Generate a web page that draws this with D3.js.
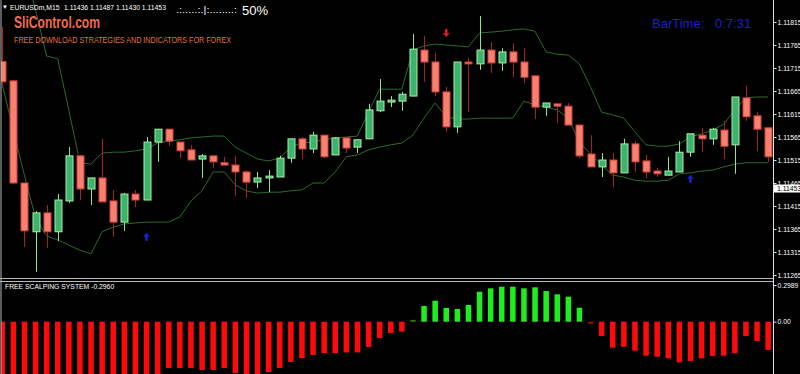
<!DOCTYPE html>
<html lang="en">
<head>
<meta charset="utf-8">
<title>EURUSDm,M15</title>
<script src="https://d3js.org/d3.v7.min.js"></script>
<style>
  body { margin: 0; background: #000; }
  svg { display: block; }
  text { font-family: "Liberation Sans", Arial, sans-serif; }
</style>
</head>
<body>
<svg id="chart" width="800" height="374"></svg>
<script>

// candles, oldest -> newest (M15)
var opens = [1.11729,1.11687,1.11465,1.11359,1.11400,1.11359,1.11426,1.11524,1.11452,1.11476,
  1.11426,1.11380,1.11441,1.11428,1.11554,1.11582,1.11554,1.11537,1.11517,1.11524,
  1.11509,1.11504,1.11489,1.11467,1.11476,1.11478,1.11519,1.11561,1.11539,1.11569,
  1.11526,1.11563,1.11543,1.11561,1.11622,1.11641,1.11643,1.11654,1.11754,1.11728,
  1.11663,1.11587,1.11728,1.11724,1.11754,1.11726,1.11750,1.11728,1.11698,1.11630,
  1.11637,1.11632,1.11591,1.11528,1.11500,1.11515,1.11487,1.11550,1.11513,1.11491,
  1.11482,1.11489,1.11532,1.11569,1.11561,1.11580,1.11548,1.11650,1.11611,1.11585];
var highs = [1.11804,1.11689,1.11465,1.11404,1.11417,1.11441,1.11543,1.11526,1.11476,1.11561,
  1.11450,1.11443,1.11450,1.11565,1.11582,1.11582,1.11554,1.11548,1.11528,1.11524,
  1.11522,1.11524,1.11493,1.11489,1.11493,1.11524,1.11561,1.11565,1.11576,1.11569,
  1.11565,1.11563,1.11559,1.11637,1.11691,1.11654,1.11663,1.11789,1.11785,1.11748,
  1.11674,1.11728,1.11737,1.11828,1.11771,1.11758,1.11769,1.11758,1.11698,1.11639,
  1.11637,1.11639,1.11591,1.11569,1.11530,1.11530,1.11561,1.11556,1.11526,1.11498,
  1.11522,1.11556,1.11572,1.11585,1.11585,1.11600,1.11652,1.11676,1.11619,1.11585];
var lows = [1.11672,1.11463,1.11326,1.11272,1.11324,1.11339,1.11422,1.11428,1.11417,1.11424,
  1.11348,1.11361,1.11413,1.11428,1.11511,1.11545,1.11519,1.11515,1.11476,1.11498,
  1.11504,1.11437,1.11432,1.11454,1.11445,1.11478,1.11509,1.11517,1.11530,1.11519,
  1.11526,1.11530,1.11530,1.11561,1.11619,1.11630,1.11622,1.11654,1.11685,1.11654,
  1.11576,1.11574,1.11619,1.11711,1.11704,1.11709,1.11695,1.11682,1.11604,1.11611,
  1.11595,1.11591,1.11519,1.11500,1.11478,1.11456,1.11487,1.11489,1.11476,1.11478,
  1.11482,1.11489,1.11522,1.11532,1.11548,1.11517,1.11485,1.11600,1.11535,1.11511];
var closes = [1.11685,1.11465,1.11361,1.11400,1.11359,1.11428,1.11524,1.11452,1.11476,1.11424,
  1.11380,1.11441,1.11428,1.11554,1.11582,1.11556,1.11535,1.11515,1.11524,1.11511,
  1.11504,1.11489,1.11467,1.11476,1.11480,1.11519,1.11561,1.11539,1.11569,1.11522,
  1.11563,1.11541,1.11559,1.11624,1.11643,1.11645,1.11658,1.11756,1.11728,1.11663,
  1.11587,1.11728,1.11724,1.11754,1.11726,1.11750,1.11728,1.11695,1.11630,1.11639,
  1.11632,1.11591,1.11524,1.11500,1.11515,1.11487,1.11550,1.11511,1.11489,1.11485,
  1.11491,1.11532,1.11572,1.11561,1.11582,1.11545,1.11652,1.11609,1.11582,1.11522];

// channel lines
var upperBand = [1.12080,1.12015,1.11939,1.11841,1.11741,1.11735,1.11624,1.11509,1.11506,1.11530,
  1.11532,1.11532,1.11535,1.11539,1.11552,1.11556,1.11559,1.11563,1.11565,1.11567,
  1.11567,1.11543,1.11530,1.11517,1.11513,1.11519,1.11543,1.11552,1.11554,1.11559,
  1.11563,1.11565,1.11567,1.11619,1.11669,1.11669,1.11669,1.11754,1.11763,1.11767,
  1.11765,1.11763,1.11761,1.11791,1.11793,1.11795,1.11798,1.11800,1.11795,1.11750,
  1.11745,1.11743,1.11724,1.11674,1.11619,1.11613,1.11606,1.11576,1.11548,1.11545,
  1.11545,1.11550,1.11565,1.11572,1.11580,1.11593,1.11624,1.11650,1.11652,1.11652];
var lowerBand = [1.11680,1.11580,1.11482,1.11389,1.11350,1.11341,1.11330,1.11319,1.11311,1.11359,
  1.11369,1.11376,1.11378,1.11380,1.11380,1.11380,1.11391,1.11426,1.11448,1.11489,
  1.11489,1.11461,1.11448,1.11443,1.11445,1.11445,1.11448,1.11450,1.11465,1.11465,
  1.11489,1.11522,1.11526,1.11537,1.11543,1.11548,1.11552,1.11569,1.11606,1.11639,
  1.11609,1.11604,1.11604,1.11606,1.11606,1.11606,1.11606,1.11643,1.11635,1.11630,
  1.11624,1.11606,1.11554,1.11528,1.11504,1.11482,1.11478,1.11471,1.11469,1.11469,
  1.11471,1.11485,1.11487,1.11491,1.11493,1.11500,1.11506,1.11509,1.11509,1.11509];

// signal arrows: bar index + price
var upArrowBars = [13, 62], upArrowPrices = [1.11348, 1.11474];
var downArrowBars = [40], downArrowPrices = [1.11791];

// FREE SCALPING SYSTEM histogram
var histValues = [-0.52,-0.55,-0.58,-0.60,-0.60,-0.59,-0.56,-0.55,-0.53,-0.52,
  -0.50,-0.49,-0.48,-0.47,-0.45,-0.377,-0.377,-0.377,-0.393,-0.393,
  -0.377,-0.418,-0.43,-0.426,-0.41,-0.377,-0.328,-0.296,-0.271,-0.255,
  -0.255,-0.25,-0.25,-0.206,-0.133,-0.092,-0.081,0.015,0.128,0.171,
  0.112,0.103,0.136,0.244,0.272,0.285,0.285,0.272,0.280,0.250,
  0.223,0.204,0.114,-0.015,-0.116,-0.212,-0.204,-0.236,-0.277,-0.285,
  -0.298,-0.331,-0.320,-0.298,-0.279,-0.277,-0.257,-0.116,-0.157,-0.230];

var priceTicks = [1.11815,1.11765,1.11715,1.11665,1.11615,1.11565,1.11515,1.11465,1.11415,1.11365,1.11315,1.11265];
var histTicks = [0.2989, 0];
var lastPrice = 1.11453;

var svg = d3.select("#chart");
var W = 800, H = 374, axisX = 773.5;

svg.append("rect").attr("width", W).attr("height", H).attr("fill", "#000");

var x = d3.scaleLinear().domain([0, closes.length - 1]).range([2.2, 768.1]);
var y = d3.scaleLinear().domain([1.11265, 1.11815]).range([275, 22]);
var yh = d3.scaleLinear().domain([0, 0.2989]).range([321.7, 285]);

var defs = svg.append("defs");
defs.append("clipPath").attr("id", "clipMain")
  .append("rect").attr("x", 1).attr("y", 0).attr("width", 772).attr("height", 278);
defs.append("clipPath").attr("id", "clipSub")
  .append("rect").attr("x", 1).attr("y", 282).attr("width", 772).attr("height", 92);

var main = svg.append("g").attr("clip-path", "url(#clipMain)");

// channel
var line = d3.line().x(function(d, i) { return x(i); }).y(function(d) { return y(d); });
[upperBand, lowerBand].forEach(function(b) {
  main.append("path").attr("d", line(b))
    .attr("fill", "none").attr("stroke", "#2e6a2e").attr("stroke-width", 1);
});

// candles
var bars = d3.range(closes.length);
var candles = main.selectAll("g.candle").data(bars).enter()
  .append("g").attr("class", "candle");

candles.append("line")
  .attr("x1", function(i) { return Math.round(x(i)) + 0.5; })
  .attr("x2", function(i) { return Math.round(x(i)) + 0.5; })
  .attr("y1", function(i) { return y(highs[i]); })
  .attr("y2", function(i) { return y(lows[i]); })
  .attr("stroke", function(i) { return closes[i] >= opens[i] ? "#8ee88e" : "#a52222"; })
  .attr("stroke-width", 1);

candles.append("rect")
  .attr("x", function(i) { return Math.round(x(i)) - 3; })
  .attr("width", 7)
  .attr("y", function(i) { return y(Math.max(opens[i], closes[i])); })
  .attr("height", function(i) { return Math.max(1.5, Math.abs(y(opens[i]) - y(closes[i]))); })
  .attr("fill", function(i) { return closes[i] >= opens[i] ? "#3cb46e" : "#f7806f"; })
  .attr("stroke", function(i) { return closes[i] >= opens[i] ? "#a6f0a0" : "#d8403a"; })
  .attr("stroke-width", 1);

// arrows
var upPath = "M0,-4 L3.5,0 L1.3,0 L1.3,4 L-1.3,4 L-1.3,0 L-3.5,0 Z";
upArrowBars.forEach(function(b, k) {
  main.append("path").attr("d", upPath).attr("fill", "#1c1cd0")
    .attr("transform", "translate(" + x(b) + "," + y(upArrowPrices[k]) + ")");
});
downArrowBars.forEach(function(b, k) {
  main.append("path").attr("d", upPath).attr("fill", "#d81c1c")
    .attr("transform", "translate(" + x(b) + "," + y(downArrowPrices[k]) + ") rotate(180)");
});

// histogram
var sub = svg.append("g").attr("clip-path", "url(#clipSub)");
sub.selectAll("rect.hb").data(histValues).enter()
  .append("rect").attr("class", "hb")
  .attr("x", function(d, i) { return x(i) - 2.7; })
  .attr("width", 5.5)
  .attr("y", function(d) { return d >= 0 ? yh(d) : yh(0); })
  .attr("height", function(d) { return Math.abs(yh(d) - yh(0)); })
  .attr("fill", function(d) {
    if (Math.abs(d) < 0.03) return d >= 0 ? "#1f7a1f" : "#9a1010";
    return d >= 0 ? "#1eee1e" : "#ff0a0a";
  });

// frame
var frame = "#b8b8b8";
svg.append("line").attr("x1", 1).attr("x2", 1).attr("y1", 0).attr("y2", H).attr("stroke", frame);
svg.append("line").attr("x1", 0).attr("x2", axisX).attr("y1", 278.5).attr("y2", 278.5).attr("stroke", frame);
svg.append("line").attr("x1", 0).attr("x2", axisX).attr("y1", 281.5).attr("y2", 281.5).attr("stroke", frame);
svg.append("line").attr("x1", axisX).attr("x2", axisX).attr("y1", 0).attr("y2", H).attr("stroke", "#e0e0e0");

// price axis
var yAxis = svg.append("g").attr("transform", "translate(" + axisX + ",0)")
  .call(d3.axisRight(y).tickValues(priceTicks).tickSize(3).tickPadding(1)
    .tickFormat(d3.format(".5f")));
var hAxis = svg.append("g").attr("transform", "translate(" + axisX + ",0)")
  .call(d3.axisRight(yh).tickValues(histTicks).tickSize(3).tickPadding(1)
    .tickFormat(function(d) { return d === 0 ? "0.00" : d3.format(".4f")(d); }));
[yAxis, hAxis].forEach(function(a) {
  a.select(".domain").remove();
  a.selectAll("line").attr("stroke", "#e0e0e0");
  a.selectAll("text").attr("fill", "#fff").style("font-size", "6.8px");
});

// current price marker
var lp = svg.append("g").attr("transform", "translate(" + axisX + "," + y(lastPrice) + ")");
lp.append("rect").attr("x", 0.5).attr("y", -4).attr("width", 27).attr("height", 8).attr("fill", "#fff");
lp.append("text").attr("x", 3.5).attr("dy", "0.33em").attr("fill", "#000")
  .style("font-size", "6.8px").text(d3.format(".5f")(lastPrice));

// header texts
svg.append("text").attr("x", 2).attr("y", 9).attr("fill", "#fff").style("font-size", "6px").text("▼");
svg.append("text").attr("x", 10).attr("y", 9.5).attr("fill", "#fff").style("font-size", "6.8px")
  .text("EURUSDm,M15");
svg.append("text").attr("x", 64).attr("y", 9.5).attr("fill", "#fff").style("font-size", "6.8px")
  .text("1.11436 1.11487 1.11430 1.11453");

svg.append("text").attr("x", 14).attr("y", 28).attr("fill", "#f26c4c")
  .style("font-size", "17px").style("font-weight", "bold")
  .attr("textLength", 86).attr("lengthAdjust", "spacingAndGlyphs")
  .text("SliControl.com");
svg.append("text").attr("x", 14).attr("y", 42.5).attr("fill", "#e8703c")
  .style("font-size", "8.5px")
  .attr("textLength", 217).attr("lengthAdjust", "spacingAndGlyphs")
  .text("FREE DOWNLOAD STRATEGIES AND INDICATORS FOR FOREX");

svg.append("text").attr("x", 176).attr("y", 13).attr("fill", "#fff").style("font-size", "9px")
  .attr("textLength", 61).attr("lengthAdjust", "spacingAndGlyphs")
  .text(".:.....:.|:........:");
svg.append("text").attr("x", 242).attr("y", 15).attr("fill", "#fff").style("font-size", "13px")
  .text("50%");

svg.append("text").attr("x", 652).attr("y", 28).attr("fill", "#1e1ecd").style("font-size", "13px")
  .text("BarTime:");
svg.append("text").attr("x", 715).attr("y", 28).attr("fill", "#1e1ecd").style("font-size", "13px")
  .text("0:7:31");

svg.append("text").attr("x", 5).attr("y", 289).attr("fill", "#fff").style("font-size", "6.8px")
  .text("FREE SCALPING SYSTEM -0.2960");

</script>
</body>
</html>
